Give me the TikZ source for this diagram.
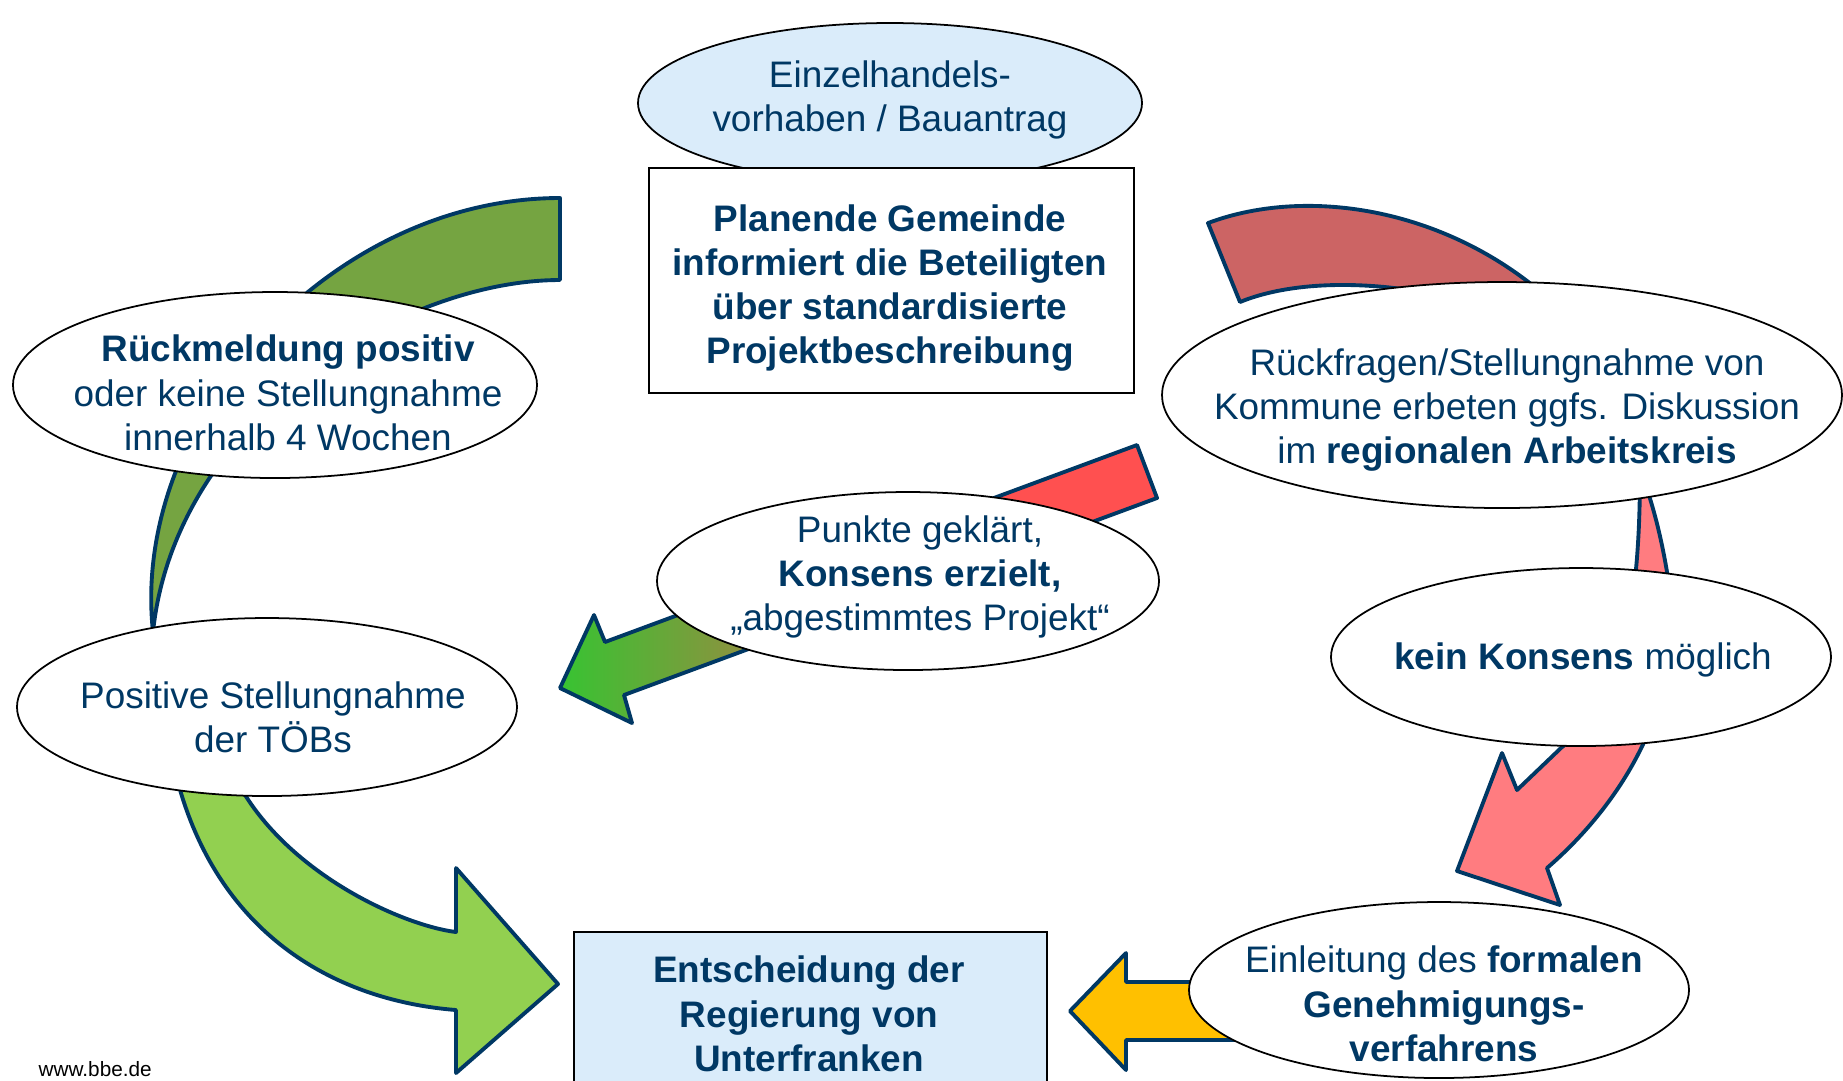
\documentclass[tikz,border=0pt]{standalone}
\usepackage{fontspec}
\setmainfont{Liberation Sans}
\usetikzlibrary{shapes.geometric}

\definecolor{bbenavy}{RGB}{0,56,100}
\definecolor{hellblau}{RGB}{218,236,250}
\definecolor{gruendunkel}{RGB}{117,164,65}
\definecolor{gruenhell}{RGB}{146,208,80}
\definecolor{rotdunkel}{RGB}{204,100,100}
\definecolor{rosa}{RGB}{255,124,128}
\definecolor{rothell}{RGB}{255,80,80}
\definecolor{gruenspitze}{RGB}{55,195,50}
\definecolor{gelb}{RGB}{255,192,0}

% Verlauf gruen -> rot fuer den Konsens-Pfeil
\pgfdeclarehorizontalshading{ampel}{100bp}{color(0bp)=(gruenspitze); color(25bp)=(gruenspitze);
  color(61bp)=(rothell); color(100bp)=(rothell)}

\tikzset{
  bubble/.style={ellipse, draw=black, fill=white, line width=0.5pt, inner sep=0pt},
  kasten/.style={rectangle, draw=black, fill=white, line width=0.6pt, inner sep=0pt},
  txt/.style={text=bbenavy, align=center, inner sep=0pt, font=\fontsize{10.5}{12.6}\selectfont},
  txtb/.style={txt, font=\fontsize{10.5}{12.6}\selectfont\bfseries},
  pfeil/.style={draw=bbenavy, line width=1.1pt, line join=round}
}

\begin{document}
\begin{tikzpicture}[x=0.1mm, y=-0.1mm]
  \useasboundingbox (0,0) rectangle (1843,1080);
  \fill[white] (0,0) rectangle (1843,1080);

  % Pfeile (hinter den Ellipsen)
  \draw[pfeil, fill=gruendunkel] (560,198) -- (560,280)
    .. controls (400,280) and (175,420) .. (153,632)
    .. controls (130,420) and (330,198) .. (560,198) -- cycle;
  \draw[pfeil, fill=gruenhell] (176,775) .. controls (215,930) and (330,1000) .. (456,1010)
    -- (456,1073) -- (558,984) -- (456,868) -- (456,932)
    .. controls (400,925) and (280,870) .. (234,775) -- cycle;
  \draw[pfeil, fill=rotdunkel] (1208,223) .. controls (1310,185) and (1450,210) .. (1550,300)
    -- (1590,360) .. controls (1500,290) and (1330,265) .. (1240,302) -- cycle;
  \draw[pfeil, fill=rosa] (1640,470) .. controls (1640,600) and (1625,700) .. (1562,747)
    -- (1517,790) -- (1502,753) -- (1457,871) -- (1560,905) -- (1547,868)
    .. controls (1620,805) and (1690,700) .. (1667,572)
    .. controls (1660,530) and (1650,495) .. (1640,470) -- cycle;
  \shadedraw[pfeil, shading=ampel] (1137,445) -- (1157,498)
    -- (624,695) -- (632,723) -- (560,688) -- (594,615) -- (605,642) -- cycle;
  \draw[pfeil, fill=gelb] (1260,982) -- (1126,982) -- (1126,953) -- (1070,1011)
    -- (1126,1070) -- (1126,1040) -- (1260,1040) -- cycle;

  % Ellipsen und Kaesten
  \node[bubble, fill=hellblau, minimum width=50.4mm, minimum height=16mm] (einzel) at (890,103) {};
  \node[kasten, minimum width=48.5mm, minimum height=22.5mm] (planende) at (891.5,280.5) {};
  \node[bubble, minimum width=52.4mm, minimum height=18.6mm] (rueckmeld) at (275,385) {};
  \node[bubble, minimum width=50mm, minimum height=17.8mm] (positiv) at (267,707) {};
  \node[bubble, minimum width=50.2mm, minimum height=17.8mm] (punkte) at (908,581) {};
  \node[bubble, minimum width=68mm, minimum height=22.6mm] (rueckfrag) at (1502,395) {};
  \node[bubble, minimum width=50mm, minimum height=17.8mm] (kein) at (1581,657) {};
  \node[bubble, minimum width=50mm, minimum height=17.6mm] (einleit) at (1439,990) {};
  \node[kasten, fill=hellblau, line width=0.8pt, minimum width=47.3mm, minimum height=18.8mm] (entscheid) at (810.5,1026) {};

  % Texte
  \node[txt] (einzel-t) at (890,100) {Einzelhandels-\\vorhaben / Bauantrag};
  \node[txtb] (planende-t) at (890,288) {Planende Gemeinde\\informiert die Beteiligten\\über standardisierte\\Projektbeschreibung};
  \node[txt] (rueckmeld-t) at (288,393) {\textbf{Rückmeldung positiv}\\oder keine Stellungnahme\\innerhalb 4 Wochen};
  \node[txt] (positiv-t) at (273,717) {Positive Stellungnahme\\der TÖBs};
  \node[txt] (punkte-t) at (920,577) {Punkte geklärt,\\\textbf{Konsens erzielt,}\\„abgestimmtes Projekt“};
  \node[txt] (rueckfrag-t) at (1507,410) {Rückfragen/Stellungnahme von\\Kommune erbeten ggfs. Diskussion\\im \textbf{regionalen Arbeitskreis}};
  \node[txt] (kein-t) at (1583,660) {\textbf{kein Konsens} möglich};
  \node[txt] (einleit-t) at (1444,1004) {Einleitung des \textbf{formalen}\\\textbf{Genehmigungs-}\\\textbf{verfahrens}};
  \node[txtb] (entscheid-t) at (809,1014) {Entscheidung der\\Regierung von\\Unterfranken};
  \node[font=\fontsize{5.9}{7}\selectfont, anchor=base west, inner sep=0pt] (quelle) at (38,1076) {www.bbe.de};
\end{tikzpicture}
\end{document}
